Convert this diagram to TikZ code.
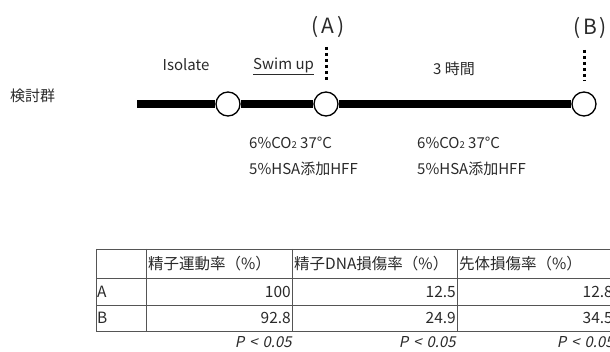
\documentclass[tikz,border=0pt]{standalone}
\usepackage{fontspec}
\setmainfont{Noto Sans CJK JP}
\newfontfamily\pitfont[FakeSlant=0.2]{Noto Sans CJK JP}
\usetikzlibrary{calc}
\definecolor{txt}{HTML}{2A2A2A}
\definecolor{grid}{HTML}{555555}
\newcommand{\pv}{P\hspace{5pt}<\hspace{5pt}0.05}
\tikzset{
  lbl/.style={inner sep=0pt, text=txt, font=\fontsize{15}{17}\selectfont},
  big/.style={inner sep=0pt, text=txt, font=\fontsize{21}{24}\selectfont},
  tcell/.style={inner sep=0pt, text=txt, font=\fontsize{15.5}{17}\selectfont},
  pval/.style={inner sep=0pt, text=txt, font=\fontsize{15}{17}\pitfont},
  stage/.style={circle, draw=black, fill=white, line width=1.3pt, minimum size=24pt, inner sep=0pt},
  bar/.style={line width=8pt, black},
  dots/.style={line width=3pt, black, dash pattern=on 3pt off 3pt},
  gridline/.style={draw=grid, line width=0.8pt}
}
\begin{document}
\begin{tikzpicture}[x=1pt,y=-1pt]
\useasboundingbox (0,0) rectangle (610,352);
\clip (0,0) rectangle (610,352);
% timeline
\node[lbl, anchor=west] (grp) at (10,96) {検討群};
\coordinate (barstart) at (137,104);
\node[stage] (c1) at (228,104) {};
\node[stage] (c2) at (326,104) {};
\node[stage] (c3) at (584,104) {};
\draw[bar] (barstart) -- (c1.west);
\draw[bar] (c1.east) -- (c2.west);
\draw[bar] (c2.east) -- (c3.west);
\node[big] (lA) at (328,27) {(\hspace{3pt}A\hspace{3pt})};
\node[big] (lB) at (590,28) {(\hspace{3pt}B\hspace{3pt})};
\coordinate (dA) at (326,47);
\coordinate (dB) at (584,50);
\draw[dots] (dA) -- ($(c2.north)+(0,-10)$);
\draw[dots] (dB) -- ($(c3.north)+(0,-10)$);
\node[lbl] (iso) at (186,65) {Isolate};
\node[lbl, anchor=west] (swim) at (253,65) {Swim up};
\draw[txt, line width=0.8pt] ($(swim.south west)+(0,2)$) -- ($(swim.south east)+(0,2)$);
\node[lbl] (hrs) at (454,69) {3 時間};
\node[lbl, anchor=west] (m1a) at (249,143) {6\%CO{\fontsize{9.5}{10}\selectfont 2} 37°C};
\node[lbl, anchor=west] (m1b) at (249,169) {5\%HSA添加HFF};
\node[lbl, anchor=west] (m2a) at (417,143) {6\%CO{\fontsize{9.5}{10}\selectfont 2} 37°C};
\node[lbl, anchor=west] (m2b) at (417,169) {5\%HSA添加HFF};
% table
\draw[gridline] (96,249) -- (620,249);
\draw[gridline] (96,278) -- (620,278);
\draw[gridline] (96,305) -- (620,305);
\draw[gridline] (96,331) -- (620,331);
\draw[gridline] (96,249) -- (96,331);
\draw[gridline] (146,249) -- (146,331);
\draw[gridline] (292,249) -- (292,331);
\draw[gridline] (457,249) -- (457,331);
\node[tcell, anchor=west] (h1) at (148,264) {精子運動率（\%）};
\node[tcell, anchor=west] (h2) at (294,264) {精子DNA損傷率（\%）};
\node[tcell, anchor=west] (h3) at (459,264) {先体損傷率（\%）};
\node[tcell, anchor=west] (ra) at (97,292) {A};
\node[tcell, anchor=west] (rb) at (97,318) {B};
\node[tcell, anchor=east] (a1) at (291,292) {100};
\node[tcell, anchor=east] (a2) at (456,292) {12.5};
\node[tcell, anchor=east] (a3) at (613,292) {12.8};
\node[tcell, anchor=east] (b1) at (291,318) {92.8};
\node[tcell, anchor=east] (b2) at (456,318) {24.9};
\node[tcell, anchor=east] (b3) at (613,318) {34.5};
\node[pval, anchor=east] (p1) at (292,342) {\pv};
\node[pval, anchor=east] (p2) at (456,342) {\pv};
\node[pval, anchor=east] (p3) at (614,342) {\pv};
\end{tikzpicture}
\end{document}
